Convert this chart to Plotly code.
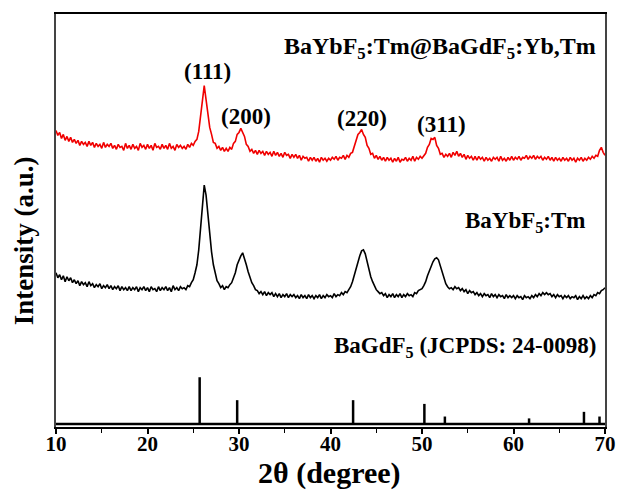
import numpy as np
import plotly.graph_objects as go

# 2theta sampling grid (degrees), 0.2 deg steps
two_theta = np.round(np.linspace(10, 70, 301), 2)

# BaYbF5:Tm@BaGdF5:Yb,Tm (red, stacked, a.u.)
red_intensity = [
    298, 293, 296, 290, 294, 288, 292, 287, 291, 286,
    289, 285, 288, 283, 287, 284, 286, 282, 287, 283,
    286, 281, 285, 282, 284, 280, 286, 281, 284, 282,
    285, 280, 283, 279, 284, 281, 282, 278, 285, 280,
    283, 279, 284, 280, 282, 278, 285, 281, 283, 279,
    284, 280, 283, 278, 285, 281, 282, 279, 284, 280,
    283, 279, 285, 280, 282, 278, 284, 281, 283, 280,
    282, 279, 284, 281, 285, 283, 287, 289, 297, 312,
    331, 343, 329, 316, 301, 294, 286, 285, 280, 282,
    278, 281, 277, 280, 277, 281, 279, 285, 287, 294,
    296, 300, 295, 292, 284, 282, 277, 279, 275, 278,
    274, 278, 275, 277, 273, 277, 274, 276, 272, 277,
    273, 276, 272, 275, 271, 276, 273, 274, 270, 274,
    271, 274, 270, 273, 268, 272, 270, 271, 267, 271,
    268, 271, 267, 270, 266, 271, 268, 270, 267, 270,
    268, 271, 269, 272, 268, 271, 270, 273, 269, 273,
    271, 275, 276, 282, 286, 294, 296, 299, 294, 291,
    283, 280, 274, 275, 270, 273, 269, 272, 268, 271,
    267, 271, 268, 270, 266, 270, 267, 271, 266, 269,
    268, 271, 267, 270, 268, 272, 267, 271, 269, 272,
    270, 273, 275, 281, 284, 290, 289, 291, 283, 280,
    274, 275, 271, 274, 272, 275, 271, 276, 273, 277,
    272, 275, 271, 274, 269, 273, 270, 272, 268, 272,
    268, 272, 269, 271, 267, 271, 268, 270, 267, 271,
    269, 271, 267, 272, 268, 270, 267, 271, 268, 272,
    268, 271, 269, 272, 268, 271, 270, 273, 269, 272,
    270, 273, 269, 272, 270, 272, 268, 271, 269, 272,
    268, 271, 267, 271, 268, 270, 267, 271, 268, 270,
    267, 271, 268, 270, 266, 270, 268, 271, 267, 270,
    268, 271, 269, 272, 270, 273, 272, 278, 281, 276,
    273,
]

# BaYbF5:Tm (black, stacked, a.u.)
black_intensity = [
    155, 150, 153, 148, 152, 146, 151, 147, 150, 145,
    148, 144, 147, 142, 146, 143, 145, 141, 146, 142,
    144, 140, 143, 141, 144, 139, 142, 140, 143, 139,
    142, 138, 141, 139, 142, 137, 141, 138, 140, 137,
    141, 137, 140, 138, 141, 136, 140, 138, 141, 137,
    140, 136, 141, 138, 139, 136, 141, 137, 140, 138,
    141, 137, 140, 136, 142, 138, 140, 137, 141, 139,
    140, 138, 142, 141, 145, 148, 155, 163, 178, 200,
    227, 243, 233, 213, 193, 176, 163, 154, 147, 144,
    140, 142, 138, 141, 140, 143, 145, 150, 155, 163,
    168, 172, 175, 170, 163, 156, 150, 145, 142, 138,
    137, 134, 136, 133, 136, 132, 135, 133, 135, 131,
    134, 131, 134, 130, 133, 131, 134, 130, 133, 131,
    133, 130, 132, 129, 133, 130, 132, 129, 133, 130,
    132, 129, 132, 130, 133, 129, 132, 130, 133, 131,
    132, 130, 134, 131, 133, 132, 135, 133, 136, 135,
    138, 141, 146, 153, 159, 166, 172, 177, 178, 174,
    166, 158, 151, 146, 141, 138, 136, 134, 135, 132,
    134, 130, 133, 131, 134, 130, 133, 131, 134, 130,
    133, 131, 134, 132, 133, 131, 135, 134, 137, 138,
    139, 142, 146, 152, 157, 162, 166, 169, 170, 168,
    162, 155, 149, 144, 141, 139, 140, 138, 141, 139,
    140, 137, 139, 136, 138, 134, 137, 135, 136, 133,
    135, 132, 134, 131, 134, 132, 133, 130, 134, 131,
    133, 130, 133, 131, 132, 129, 133, 130, 132, 130,
    132, 129, 132, 130, 131, 128, 132, 130, 131, 129,
    132, 130, 133, 131, 134, 132, 135, 133, 135, 133,
    134, 131, 133, 130, 133, 131, 132, 129, 132, 130,
    132, 129, 131, 130, 132, 128, 131, 129, 132, 129,
    131, 129, 132, 130, 133, 132, 135, 134, 137, 138,
    140,
]

# BaGdF5 reference pattern (JCPDS 24-0098)
ref_2theta = [25.7, 29.8, 42.47, 50.26, 52.5, 61.7, 67.7, 69.4]
ref_rel_intensity = [100, 51, 51, 43, 16, 12, 26, 16]
ref_baseline = 3
ref_scale = 0.47

labels_hkl = ["(111)", "(200)", "(220)", "(311)"]
hkl_pos = [(26.55, 357), (30.73, 312), (43.43, 310), (52.16, 304)]

FONT = "Liberation Serif"

fig = go.Figure()

fig.add_trace(go.Scatter(x=two_theta, y=red_intensity, mode="lines",
                         line=dict(color="#f00000", width=1.6), showlegend=False))
fig.add_trace(go.Scatter(x=two_theta, y=black_intensity, mode="lines",
                         line=dict(color="#000000", width=1.6), showlegend=False))

# stick pattern
sx, sy = [], []
for t, r in zip(ref_2theta, ref_rel_intensity):
    sx += [t, t, None]
    sy += [ref_baseline, ref_baseline + r * ref_scale, None]
fig.add_trace(go.Scatter(x=sx, y=sy, mode="lines",
                         line=dict(color="black", width=2.5), showlegend=False))
fig.add_trace(go.Scatter(x=[10, 70], y=[ref_baseline, ref_baseline], mode="lines",
                         line=dict(color="black", width=2.5), showlegend=False))

ann_font = dict(family=FONT, size=23, color="black", weight="bold")
annotations = []
for lab, (xx, yy) in zip(labels_hkl, hkl_pos):
    annotations.append(dict(x=xx, y=yy, text=lab, showarrow=False,
                            xanchor="center", yanchor="middle", font=ann_font))
annotations.append(dict(x=69.2, y=381, text="BaYbF<sub>5</sub>:Tm@BaGdF<sub>5</sub>:Yb,Tm",
                        showarrow=False, xanchor="right", yanchor="middle",
                        font=dict(family=FONT, size=24, color="black", weight="bold")))
annotations.append(dict(x=68.1, y=206, text="BaYbF<sub>5</sub>:Tm",
                        showarrow=False, xanchor="right", yanchor="middle", font=ann_font))
annotations.append(dict(x=69.2, y=80, text="BaGdF<sub>5</sub> (JCPDS: 24-0098)",
                        showarrow=False, xanchor="right", yanchor="middle", font=ann_font))
annotations.append(dict(xref="paper", yref="paper", x=0.498, y=-0.112,
                        text="2θ (degree)", showarrow=False, xanchor="center", yanchor="middle",
                        font=dict(family=FONT, size=30, color="black", weight="bold")))
annotations.append(dict(xref="paper", yref="paper", x=-0.058, y=0.45,
                        text="Intensity (a.u.)", showarrow=False, textangle=-90,
                        xanchor="center", yanchor="middle",
                        font=dict(family=FONT, size=27, color="black", weight="bold")))

fig.update_layout(
    width=628, height=493,
    margin=dict(l=56, r=12, t=12, b=66),
    paper_bgcolor="white", plot_bgcolor="white",
    annotations=annotations,
    xaxis=dict(range=[10, 70], tickmode="array", tickvals=[10, 20, 30, 40, 50, 60, 70],
               ticks="outside", ticklen=5, tickwidth=1.5, tickcolor="black",
               ticklabelstandoff=-8,
               minor=dict(dtick=5, ticks="outside", ticklen=4, tickwidth=1.2, tickcolor="black"),
               showline=True, linecolor="black", linewidth=1.5, mirror=True,
               showgrid=False, zeroline=False,
               tickfont=dict(family=FONT, size=21, color="black", weight="bold")),
    yaxis=dict(range=[0, 415], showticklabels=False, ticks="",
               showline=True, linecolor="#444444", linewidth=1.5, mirror=True,
               showgrid=False, zeroline=False),
)

fig.write_html("out.html")
